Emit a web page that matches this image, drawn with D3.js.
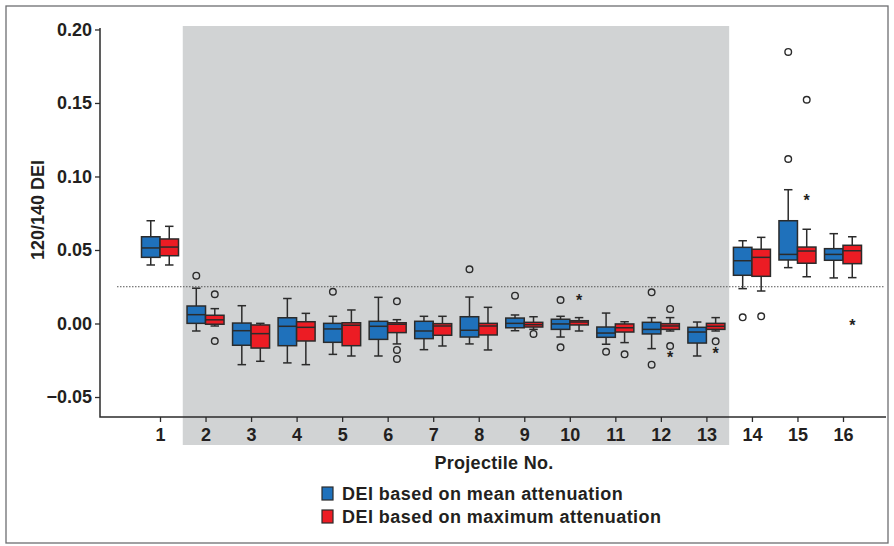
<!DOCTYPE html>
<html>
<head>
  <meta charset="utf-8">
  <title>120/140 DEI by projectile</title>
  <script type="text/javascript" src="https://cdn.jsdelivr.net/npm/d3@7"></script>
  <style>
    body { margin: 0; background: #fff; }
    text { font-family: "Liberation Sans Narrow", "Arial Narrow", "Liberation Sans", sans-serif; font-weight: bold; fill: #231f20; }
  </style>
</head>
<body>
<svg id="chart"></svg>
<script>
// data: [whisker low, q1, median, q3, whisker high]
var projectiles = [1, 2, 3, 4, 5, 6, 7, 8, 9, 10, 11, 12, 13, 14, 15, 16];
var meanStats = [
  [0.0398, 0.0450, 0.0514, 0.0590, 0.0699],
  [-0.0051, 0.0001, 0.0060, 0.0119, 0.0240],
  [-0.0280, -0.0148, -0.0049, 0.0003, 0.0121],
  [-0.0268, -0.0151, -0.0019, 0.0039, 0.0170],
  [-0.0210, -0.0128, -0.0037, 0.0001, 0.0049],
  [-0.0221, -0.0108, -0.0019, 0.0015, 0.0178],
  [-0.0178, -0.0103, -0.0051, 0.0015, 0.0049],
  [-0.0139, -0.0092, -0.0046, 0.0046, 0.0180],
  [-0.0049, -0.0029, 0.0001, 0.0037, 0.0058],
  [-0.0092, -0.0040, -0.0003, 0.0029, 0.0049],
  [-0.0141, -0.0094, -0.0065, -0.0024, 0.0071],
  [-0.0171, -0.0071, -0.0040, 0.0008, 0.0040],
  [-0.0221, -0.0133, -0.0058, -0.0026, 0.0010],
  [0.0237, 0.0328, 0.0427, 0.0518, 0.0563],
  [0.0380, 0.0432, 0.0470, 0.0699, 0.0910],
  [0.0310, 0.0430, 0.0470, 0.0509, 0.0611]
];
var maxStats = [
  [0.0398, 0.0461, 0.0520, 0.0575, 0.0661],
  [-0.0017, -0.0005, 0.0025, 0.0056, 0.0101],
  [-0.0257, -0.0167, -0.0069, -0.0010, 0.0001],
  [-0.0280, -0.0119, -0.0026, 0.0012, 0.0069],
  [-0.0221, -0.0151, -0.0012, 0.0005, 0.0092],
  [-0.0139, -0.0062, -0.0005, 0.0005, 0.0026],
  [-0.0153, -0.0080, -0.0017, -0.0001, 0.0049],
  [-0.0180, -0.0078, -0.0017, 0.0001, 0.0110],
  [-0.0040, -0.0024, -0.0008, 0.0008, 0.0046],
  [-0.0051, -0.0010, 0.0010, 0.0019, 0.0040],
  [-0.0130, -0.0058, -0.0029, -0.0003, 0.0012],
  [-0.0051, -0.0040, -0.0017, -0.0001, 0.0040],
  [-0.0051, -0.0040, -0.0019, 0.0001, 0.0040],
  [0.0221, 0.0321, 0.0450, 0.0505, 0.0586],
  [0.0318, 0.0410, 0.0493, 0.0520, 0.0641],
  [0.0312, 0.0407, 0.0495, 0.0532, 0.0590]
];
// [projectile, value] outliers (circles) and extremes (asterisks)
var meanOutliers = [[2, 0.0325], [5, 0.0216], [8, 0.0369], [9, 0.0189], [10, 0.0160], [10, -0.0162],
  [11, -0.0192], [12, 0.0212], [12, -0.0280], [14, 0.0042], [15, 0.1847], [15, 0.1119]];
var maxOutliers = [[2, 0.0199], [2, -0.0119], [6, 0.0151], [6, -0.0180], [6, -0.0241], [9, -0.0071],
  [11, -0.0210], [12, 0.0099], [12, -0.0153], [13, -0.0121], [14, 0.0049], [15, 0.1522]];
var maxExtremes = [[10, 0.0171], [12, -0.0216], [13, -0.0187], [15, 0.0852], [16, 0.0001]];
var yTicks = [-0.05, 0.00, 0.05, 0.10, 0.15, 0.20];
var reference = 0.025;
var shaded = [2, 13];
var series = ["DEI based on mean attenuation", "DEI based on maximum attenuation"];
var colors = ["#1f71bb", "#ec1c24"];

var width = 894, height = 546;
var svg = d3.select("#chart").attr("width", width).attr("height", height);

var x = d3.scalePoint().domain(projectiles).range([160, 843]);
var y = d3.scaleLinear().domain([-0.0636, 0.201]).range([417, 28]);
var step = x.step();
var boxW = 18.5, capW = 8.5;
var ink = "#2b2b2b";

// outer frame
svg.append("rect")
  .attr("x", 6).attr("y", 6).attr("width", 882).attr("height", 537)
  .attr("fill", "none").attr("stroke", "#6d6e71").attr("stroke-width", 1.3);

// shaded band for projectiles 2-13 (runs under the tick labels)
svg.append("rect")
  .attr("x", x(shaded[0]) - step / 2)
  .attr("width", x(shaded[1]) - x(shaded[0]) + step)
  .attr("y", 26).attr("height", 445 - 26)
  .attr("fill", "#d1d3d4");

// reference line
svg.append("line")
  .attr("x1", 117).attr("x2", 884)
  .attr("y1", y(reference)).attr("y2", y(reference))
  .attr("stroke", "#555").attr("stroke-width", 1)
  .attr("stroke-dasharray", "1.5,1.5");

// axes
var yAxis = svg.append("g")
  .attr("transform", "translate(100,0)")
  .call(d3.axisLeft(y).tickValues(yTicks).tickFormat(d3.format(".2f")).tickSize(5).tickPadding(3));
yAxis.select(".domain").remove();
yAxis.selectAll("line").attr("stroke", ink).attr("stroke-width", 1.3);
yAxis.selectAll("text").attr("font-size", 18).attr("font-family", null).attr("fill", "#231f20");

var xAxis = svg.append("g")
  .attr("transform", "translate(0,417)")
  .call(d3.axisBottom(x).tickSize(5).tickPadding(6));
xAxis.select(".domain").remove();
xAxis.selectAll("line").attr("stroke", ink).attr("stroke-width", 1.3);
xAxis.selectAll("text").attr("font-size", 18).attr("font-family", null).attr("fill", "#231f20");

svg.append("path")
  .attr("d", "M100,28V417H886")
  .attr("fill", "none").attr("stroke", ink).attr("stroke-width", 1.5);

// boxes
function drawBoxes(stats, offset, color) {
  var g = svg.append("g");
  var box = g.selectAll("g").data(stats).enter().append("g")
    .attr("transform", function(d, i) { return "translate(" + (x(projectiles[i]) + offset) + ",0)"; });
  box.append("line")
    .attr("y1", function(d) { return y(d[0]); })
    .attr("y2", function(d) { return y(d[4]); })
    .attr("stroke", ink).attr("stroke-width", 1.5);
  box.selectAll(".cap").data(function(d) { return [d[0], d[4]]; }).enter().append("line")
    .attr("x1", -capW / 2).attr("x2", capW / 2)
    .attr("y1", function(v) { return y(v); }).attr("y2", function(v) { return y(v); })
    .attr("stroke", ink).attr("stroke-width", 1.5);
  box.append("rect")
    .attr("x", -boxW / 2).attr("width", boxW)
    .attr("y", function(d) { return y(d[3]); })
    .attr("height", function(d) { return Math.max(1, y(d[1]) - y(d[3])); })
    .attr("fill", color).attr("stroke", ink).attr("stroke-width", 1.5);
  box.append("line")
    .attr("x1", -boxW / 2).attr("x2", boxW / 2)
    .attr("y1", function(d) { return y(d[2]); }).attr("y2", function(d) { return y(d[2]); })
    .attr("stroke", ink).attr("stroke-width", 1.5);
}
drawBoxes(meanStats, -boxW / 2, colors[0]);
drawBoxes(maxStats, boxW / 2, colors[1]);

function drawOutliers(points, offset) {
  svg.append("g").selectAll("circle").data(points).enter().append("circle")
    .attr("cx", function(d) { return x(d[0]) + offset; })
    .attr("cy", function(d) { return y(d[1]); })
    .attr("r", 3.3)
    .attr("fill", "none").attr("stroke", ink).attr("stroke-width", 1.4);
}
drawOutliers(meanOutliers, -boxW / 2);
drawOutliers(maxOutliers, boxW / 2);

svg.append("g").selectAll("text").data(maxExtremes).enter().append("text")
  .attr("x", function(d) { return x(d[0]) + boxW / 2; })
  .attr("y", function(d) { return y(d[1]) + 8; })
  .attr("text-anchor", "middle")
  .attr("font-size", 16)
  .text("*");

// axis titles
svg.append("text")
  .attr("transform", "translate(44,210) rotate(-90)")
  .attr("text-anchor", "middle")
  .attr("font-size", 18)
  .text("120/140 DEI");

svg.append("text")
  .attr("x", 494).attr("y", 469)
  .attr("text-anchor", "middle")
  .attr("font-size", 18)
  .attr("letter-spacing", 0.3)
  .text("Projectile No.");

// legend
var legend = svg.append("g").attr("transform", "translate(322,487)");
var item = legend.selectAll("g").data(series).enter().append("g")
  .attr("transform", function(d, i) { return "translate(0," + (i * 23) + ")"; });
item.append("rect")
  .attr("width", 11).attr("height", 13)
  .attr("fill", function(d, i) { return colors[i]; })
  .attr("stroke", ink).attr("stroke-width", 1.2);
item.append("text")
  .attr("x", 20).attr("y", 12.5)
  .attr("font-size", 18)
  .attr("letter-spacing", 0.45)
  .text(function(d) { return d; });
</script>
</body>
</html>
